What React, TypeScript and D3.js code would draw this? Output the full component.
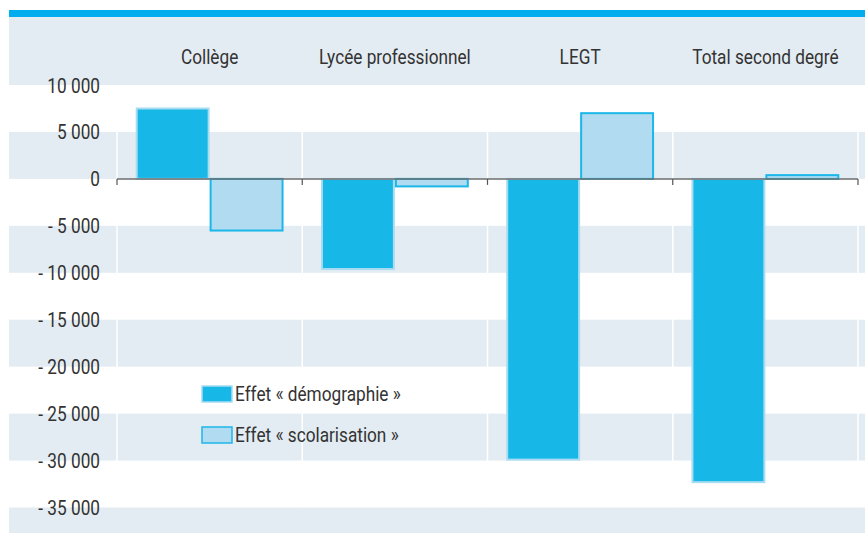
import React from 'react';
import * as d3 from 'd3';

const categories = ['Collège', 'Lycée professionnel', 'LEGT', 'Total second degré'];
const series = ['Effet « démographie »', 'Effet « scolarisation »'];
const demographie = [7500, -9600, -29900, -32300];
const scolarisation = [-5500, -800, 7000, 400];
const yTicks = [10000, 5000, 0, -5000, -10000, -15000, -20000, -25000, -30000, -35000];

const W = 865;
const H = 533;
const FONT = 'Roboto, "DejaVu Sans Condensed", sans-serif';
const FS = 21;
const SX = 0.82; // condensed look
const GRAY = '#e3ecf2';
const DEMO_FILL = '#17b8e8';
const DEMO_STROKE = '#a8dcf1';
const SCOL_FILL = '#b1dbf0';
const SCOL_STROKE = '#1cb7e9';
const TEXT = '#333333';

const fmt = (v: number) => {
  const s = Math.abs(v).toString().replace(/\B(?=(\d{3})+(?!\d))/g, ' ');
  return v < 0 ? '- ' + s : s;
};

// narrow text drawn with a horizontal squeeze
const Label = ({ x, y, anchor, children }: any) => (
  <g transform={`translate(${x},${y}) scale(${SX},1)`}>
    <text textAnchor={anchor} fontSize={FS} fill={TEXT}>{children}</text>
  </g>
);

export default function App() {
  const panelX = 9;
  const x = d3.scaleBand().domain(categories).range([117, 858]).paddingInner(0).paddingOuter(0);
  const y = d3.scaleLinear().domain([-35000, 10000]).range([507.5, 85]);
  const inner = d3.scaleBand().domain(series).range([0, x.bandwidth()]).paddingOuter(0.253).paddingInner(0);

  // bands between ticks, gray for every other interval
  const bands = d3.pairs(yTicks).map(([a, b], i) => ({ a, b, gray: i % 2 === 1 }));
  const seps = [...categories.map(c => x(c)!), x.range()[1]];

  const data = categories.map((c, i) => [demographie[i], scolarisation[i]]);

  return (
    <div style={{ position: 'fixed', left: 0, top: 0 }}>
      <svg width={W} height={H} style={{ display: 'block', fontFamily: FONT }}>
        <rect x={0} y={0} width={W} height={H} fill="#fff" />
        {/* header */}
        <rect x={panelX} y={17} width={W - panelX} height={y(10000) - 17} fill={GRAY} />
        <rect x={panelX} y={10} width={W - panelX} height={7} fill="#00aeef" />
        {/* bands */}
        {bands.filter(d => d.gray).map(d => (
          <rect key={d.a} x={panelX} y={y(d.a)} width={W - panelX} height={y(d.b) - y(d.a)} fill={GRAY} />
        ))}
        <rect x={panelX} y={y(-35000)} width={W - panelX} height={H - y(-35000)} fill={GRAY} />
        {/* vertical separators */}
        {seps.map((v, i) => (
          <line key={i} x1={v} x2={v} y1={y(10000)} y2={y(-35000)} stroke="#fff" strokeWidth={1.5} />
        ))}
        {/* category labels */}
        {categories.map(c => (
          <Label key={c} x={x(c)! + x.bandwidth() / 2} y={64} anchor="middle">{c}</Label>
        ))}
        {/* y tick labels */}
        {yTicks.map(t => (
          <Label key={t} x={100} y={y(t) + 7.5} anchor="end">{fmt(t)}</Label>
        ))}
        {/* bars */}
        {categories.map((c, i) => (
          <g key={c} transform={`translate(${x(c)},0)`}>
            {series.map((s, j) => {
              const v = data[i][j];
              const y0 = y(Math.max(0, v));
              const h = Math.abs(y(v) - y(0));
              return (
                <rect key={s} x={inner(s)! + 1} y={y0} width={inner.bandwidth() - 2} height={h}
                  fill={j === 0 ? DEMO_FILL : SCOL_FILL}
                  stroke={j === 0 ? DEMO_STROKE : SCOL_STROKE} strokeWidth={2} />
              );
            })}
          </g>
        ))}
        {/* zero axis */}
        <line x1={x.range()[0]} x2={x.range()[1]} y1={y(0)} y2={y(0)} stroke="#6d6d6d" strokeWidth={1.5} />
        {seps.map((v, i) => (
          <line key={i} x1={v} x2={v} y1={y(0)} y2={y(0) + 6} stroke="#555" strokeWidth={1.2} />
        ))}
        {/* legend */}
        {series.map((s, j) => (
          <g key={s} transform={`translate(202,${386 + j * 41})`}>
            <rect x={0} y={0} width={30} height={16} fill={j === 0 ? DEMO_FILL : SCOL_FILL}
              stroke={j === 0 ? DEMO_STROKE : SCOL_STROKE} strokeWidth={1.5} />
            <Label x={33} y={15} anchor="start">{s}</Label>
          </g>
        ))}
      </svg>
    </div>
  );
}
